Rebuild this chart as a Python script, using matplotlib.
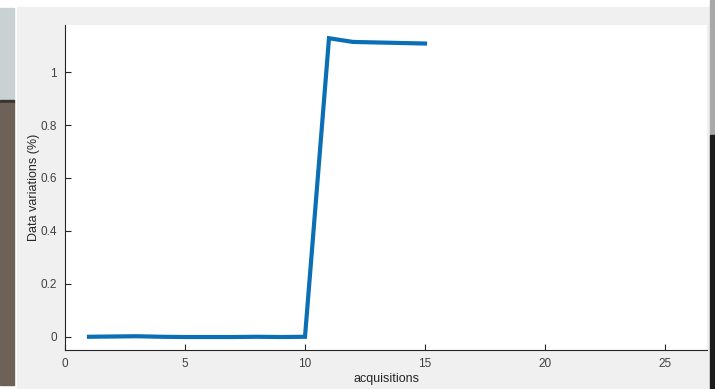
import matplotlib.pyplot as plt
from matplotlib.patches import Rectangle

# acquisitions and measured variation (%)
acquisitions = [1, 2, 3, 4, 5, 6, 7, 8, 9, 10, 11, 12, 13, 14, 15]
variations = [0.0, 0.001, 0.002, 0.0, -0.001, -0.001, -0.001, 0.0, -0.001, 0.0,
              1.128, 1.114, 1.112, 1.110, 1.108]

x_ticks = [0, 5, 10, 15, 20, 25]
y_ticks = [0, 0.2, 0.4, 0.6, 0.8, 1]
y_tick_labels = ['0', '0.2', '0.4', '0.6', '0.8', '1']

W, H = 715, 389
fig = plt.figure(figsize=(W / 100, H / 100), dpi=100, facecolor='white')
plt.rcParams['font.family'] = ['Liberation Sans', 'DejaVu Sans']


def px_rect(x0, y0, x1, y1, color):
    # rectangle in screen pixels (top-left origin)
    fig.patches.append(Rectangle((x0 / W, 1 - y1 / H), (x1 - x0) / W, (y1 - y0) / H,
                                 transform=fig.transFigure, color=color, zorder=-5))


# window chrome around the MATLAB figure
px_rect(17, 7, 710, 389, '#f0f0f0')
px_rect(0, 8, 14, 100, '#c9d2d2')
px_rect(0, 100, 14, 103, '#3a332e')
px_rect(0, 103, 14, 385, '#6e6258')
px_rect(710, 0, 715, 135, '#a9a9a9')
px_rect(710, 135, 715, 389, '#1c1c1c')

ax = fig.add_axes([65 / W, (H - 350) / H, (707 - 65) / W, (350 - 25) / H])
ax.set_zorder(2)
ax.set_facecolor('white')
ax.plot(acquisitions, variations, color='#0a6fb5', linewidth=3, solid_joinstyle='miter')

ax.set_xlim(0, 26.75)
ax.set_ylim(-0.05, 1.178)
ax.set_xticks(x_ticks)
ax.set_yticks(y_ticks)
ax.set_yticklabels(y_tick_labels)

for s in ['top', 'right']:
    ax.spines[s].set_visible(False)
for s in ['left', 'bottom']:
    ax.spines[s].set_color('#262626')
    ax.spines[s].set_linewidth(0.8)

ax.tick_params(direction='in', length=4, width=0.8, color='#262626',
               labelsize=8.5, labelcolor='#404040', pad=6)

ax.set_xlabel('acquisitions', fontsize=9, color='#262626', labelpad=2)
ax.set_ylabel('Data variations (%)', fontsize=9, color='#262626', labelpad=0)

fig.savefig('out.png', dpi=100, facecolor=fig.get_facecolor())
